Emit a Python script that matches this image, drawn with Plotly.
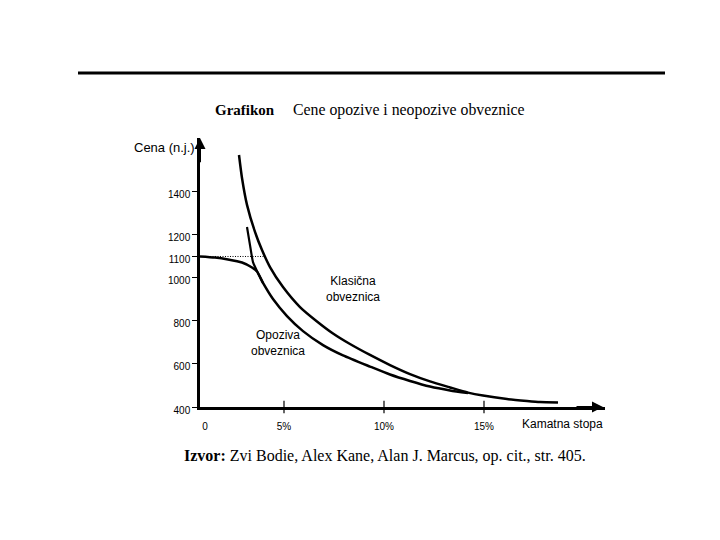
import plotly.graph_objects as go

# ---- data ----
klasicna_x = [2.75, 2.9, 3.15, 3.55, 3.9, 4.3, 4.95, 5.8, 6.65, 7.45, 8.3, 9.3, 10.3, 11.3, 12.3, 13.3, 14.2, 14.95, 16.15, 17.15, 17.8, 18.7]
klasicna_y = [1572, 1465, 1340, 1214, 1130, 1051, 958, 865, 798, 742, 693, 642, 595, 553, 519, 491, 467, 453, 437, 428, 423, 421]

opoziva_x = [0.8, 1.55, 2.2, 2.9, 3.4, 3.65, 3.95, 4.45, 5.15, 5.95, 6.95, 7.95, 9.3, 10.3, 11.3, 12.3, 13.3, 14.2]
opoziva_y = [1100, 1095, 1086, 1072, 1049, 1030, 977, 902, 823, 753, 688, 640, 588, 551, 521, 495, 477, 465]

grana_x = [3.15, 3.3, 3.45, 3.7, 3.95]
grana_y = [1237, 1153, 1074, 1023, 977]

cena_opoziva = 1100
opoziv_x = [0.8, 4.1]

y_tick_vals = [400, 600, 800, 1000, 1100, 1200, 1400]
y_tick_text = ["400", "600", "800", "1000", "1100", "1200", "1400"]
x_tick_vals = [1.05, 5, 10, 15]
x_tick_text = ["0", "5%", "10%", "15%"]
x_tick_marks = [5, 10, 15]

X_MIN, X_MAX = 0.8, 21.05
Y_MIN, Y_MAX = 400, 1651

OFF = 8  # page body margin
W, H = 720 - OFF, 540 - OFF
PL, PR, PT, PB = 200, 605, 138, 407  # plot area in screen pixels
ML, MT = PL - OFF, PT - OFF
MR = W - (PR - OFF)
MB = H - (PB - OFF)
PW, PH = PR - PL, PB - PT


def px(x):
    return (x - PL) / PW


def py(y):
    return (PB - y) / PH


SANS = "Liberation Sans, Arial, sans-serif"
SERIF = "Liberation Serif, Times New Roman, serif"

fig = go.Figure()

line_style = dict(color="black", width=2.5, shape="spline", smoothing=0.6)

fig.add_trace(go.Scatter(x=klasicna_x, y=klasicna_y, mode="lines", line=line_style,
                         hoverinfo="skip", showlegend=False))
fig.add_trace(go.Scatter(x=opoziva_x, y=opoziva_y, mode="lines", line=line_style,
                         hoverinfo="skip", showlegend=False))
fig.add_trace(go.Scatter(x=grana_x, y=grana_y, mode="lines",
                         line=dict(color="black", width=2.2, shape="spline", smoothing=0.5),
                         hoverinfo="skip", showlegend=False))
fig.add_trace(go.Scatter(x=opoziv_x, y=[cena_opoziva] * len(opoziv_x), mode="lines",
                         line=dict(color="black", width=1, dash="1px,1.5px"),
                         hoverinfo="skip", showlegend=False))
# tick crosses on the x axis
fig.add_trace(go.Scatter(x=x_tick_marks, y=[Y_MIN] * len(x_tick_marks), mode="markers",
                         marker=dict(symbol="line-ns", size=9, line=dict(color="black", width=1.2)),
                         cliponaxis=False, hoverinfo="skip", showlegend=False))

fig.update_xaxes(range=[X_MIN, X_MAX], showline=True, linecolor="black", linewidth=2.5,
                 showgrid=False, zeroline=False, ticks="",
                 tickvals=x_tick_vals, ticktext=x_tick_text,
                 tickfont=dict(family=SANS, size=10, color="black"),
                 ticklabelstandoff=8)
fig.update_yaxes(range=[Y_MIN, Y_MAX], showline=True, linecolor="black", linewidth=2.5,
                 showgrid=False, zeroline=False, ticks="outside", ticklen=5,
                 tickwidth=1, tickcolor="black",
                 tickvals=y_tick_vals, ticktext=y_tick_text,
                 tickfont=dict(family=SANS, size=10, color="black"),
                 ticklabelshift=3)

annotations = [
    # axis arrowheads
    dict(x=X_MIN, y=Y_MAX, ax=X_MIN, ay=Y_MAX - 120, xref="x", yref="y", axref="x", ayref="y",
         showarrow=True, arrowhead=2, arrowsize=1.1, arrowwidth=2, arrowcolor="black", text=""),
    dict(x=X_MAX - 0.1, y=Y_MIN, ax=X_MAX - 1.5, ay=Y_MIN, xref="x", yref="y", axref="x", ayref="y",
         showarrow=True, arrowhead=2, arrowsize=1.1, arrowwidth=2, arrowcolor="black", text=""),
    # title
    dict(x=px(213), y=py(110), xref="paper", yref="paper", xanchor="left", yanchor="middle",
         text="<b>Grafikon</b>", showarrow=False,
         font=dict(family=SERIF, size=15, color="black")),
    dict(x=px(291), y=py(110), xref="paper", yref="paper", xanchor="left", yanchor="middle",
         text="Cene opozive i neopozive obveznice", showarrow=False,
         font=dict(family=SERIF, size=15.8, color="black")),
    # axis titles
    dict(x=px(197), y=py(147), xref="paper", yref="paper", xanchor="right", yanchor="middle",
         text="Cena (n.j.)", showarrow=False, font=dict(family=SANS, size=13, color="black")),
    dict(x=px(520), y=py(424), xref="paper", yref="paper", xanchor="left", yanchor="middle",
         text="Kamatna stopa", showarrow=False, font=dict(family=SANS, size=12, color="black")),
    # curve labels
    dict(x=px(353), y=py(289), xref="paper", yref="paper", xanchor="center", yanchor="middle",
         text="Klasična<br>obveznica", showarrow=False, font=dict(family=SANS, size=12, color="black")),
    dict(x=px(278), y=py(343), xref="paper", yref="paper", xanchor="center", yanchor="middle",
         text="Opoziva<br>obveznica", showarrow=False, font=dict(family=SANS, size=12, color="black")),
    # source
    dict(x=px(182), y=py(456), xref="paper", yref="paper", xanchor="left", yanchor="middle",
         text="<b>Izvor:</b> Zvi Bodie, Alex Kane, Alan J. Marcus, op. cit., str. 405.",
         showarrow=False, font=dict(family=SERIF, size=16, color="black")),
]

shapes = [
    dict(type="line", xref="paper", yref="paper", x0=px(78), x1=px(665), y0=py(73), y1=py(73),
         line=dict(color="black", width=3)),
]

fig.update_layout(width=W, height=H, margin=dict(l=ML, r=MR, t=MT, b=MB),
                  paper_bgcolor="white", plot_bgcolor="white",
                  annotations=annotations, shapes=shapes, showlegend=False)

fig.write_html("out.html")
